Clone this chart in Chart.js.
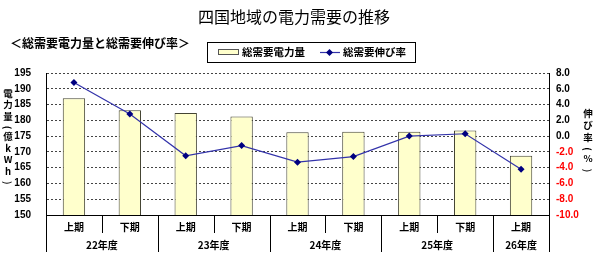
<!DOCTYPE html>
<html>
<head>
<meta charset="utf-8">
<script src="https://cdn.jsdelivr.net/npm/chart.js"></script>
<style>
  html, body { margin: 0; padding: 0; background: #fff; }
  #wrap { width: 595px; height: 270px; }
</style>
</head>
<body>
<div id="wrap"><canvas id="demandChart" width="595" height="270"></canvas></div>
<script>
// 半期ラベルと年度
const halves = ['上期', '下期', '上期', '下期', '上期', '下期', '上期', '下期', '上期'];
const fiscalYears = ['22年度', '22年度', '23年度', '23年度', '24年度', '24年度', '25年度', '25年度', '26年度'];

// 総需要電力量（億kWh）
const demand = [187.0, 183.2, 182.3, 181.2, 176.2, 176.4, 176.4, 176.8, 168.8];
// 総需要伸び率（%）
const growth = [6.8, 2.8, -2.5, -1.2, -3.3, -2.6, 0.0, 0.3, -4.2];

const jpFont = "'Noto Sans CJK JP', 'Liberation Sans', sans-serif";
const numFont = "'Liberation Sans', Arial, sans-serif";

// タイトル・凡例・軸ラベルなどを描く
const decorations = {
  id: 'decorations',
  afterDraw(chart) {
    const ctx = chart.ctx;
    const area = chart.chartArea;
    const xs = chart.scales.x;
    ctx.save();
    ctx.fillStyle = '#000';
    ctx.textBaseline = 'middle';

    // タイトル
    ctx.font = '16px ' + jpFont;
    ctx.textAlign = 'center';
    ctx.fillText('四国地域の電力需要の推移', 294, 17);

    // サブタイトル
    ctx.font = 'bold 12px ' + jpFont;
    ctx.textAlign = 'left';
    ctx.fillText('＜総需要電力量と総需要伸び率＞', 10, 43);

    // 凡例
    ctx.strokeStyle = '#000';
    ctx.lineWidth = 1;
    ctx.strokeRect(207.5, 42.5, 208, 20);
    ctx.fillStyle = '#ffffcc';
    ctx.fillRect(218.5, 49.5, 20, 5);
    ctx.strokeStyle = '#555';
    ctx.strokeRect(218.5, 49.5, 20, 5);
    ctx.fillStyle = '#000';
    ctx.font = 'bold 10.5px ' + jpFont;
    ctx.fillText('総需要電力量', 242, 52.5);
    ctx.strokeStyle = '#3333aa';
    ctx.lineWidth = 1.2;
    ctx.beginPath();
    ctx.moveTo(320, 52.5);
    ctx.lineTo(340, 52.5);
    ctx.stroke();
    ctx.fillStyle = '#000080';
    ctx.beginPath();
    ctx.moveTo(329.5, 49);
    ctx.lineTo(333, 52.5);
    ctx.lineTo(329.5, 56);
    ctx.lineTo(326, 52.5);
    ctx.closePath();
    ctx.fill();
    ctx.fillStyle = '#000';
    ctx.fillText('総需要伸び率', 343, 52.5);

    // 縦書き軸タイトル
    const drawVertical = (chars, x, y0, step) => {
      ctx.font = 'bold 9.5px ' + jpFont;
      ctx.textAlign = 'center';
      let y = y0;
      chars.forEach(ch => {
        if (ch === '(' || ch === ')') {
          ctx.save();
          ctx.translate(x, y);
          ctx.rotate(Math.PI / 2);
          ctx.fillText(ch, 0, 0);
          ctx.restore();
          y += step * 0.8;
        } else {
          ctx.fillText(ch, x, y);
          y += step;
        }
      });
    };
    drawVertical(['電', '力', '量', '(', '億', 'k', 'W', 'h', ')'], 8, 93, 11.5);
    drawVertical(['伸', 'び', '率', '(', '%', ')'], 588, 113, 12);

    // 横軸ラベル（2段）
    ctx.font = 'bold 10px ' + jpFont;
    ctx.textAlign = 'center';
    const step = (area.right - area.left) / halves.length;
    halves.forEach((h, i) => {
      ctx.fillText(h, xs.getPixelForValue(i), area.bottom + 12);
    });
    ctx.strokeStyle = '#000';
    ctx.lineWidth = 1;
    // 区切り線
    for (let i = 0; i <= halves.length; i++) {
      const x = Math.round(area.left + step * i) + 0.5;
      const long = i === 0 || i === halves.length || fiscalYears[i] !== fiscalYears[i - 1];
      ctx.beginPath();
      ctx.moveTo(x, area.bottom);
      ctx.lineTo(x, area.bottom + (long ? 37 : 18));
      ctx.stroke();
    }
    // 年度ラベル
    let start = 0;
    for (let i = 1; i <= fiscalYears.length; i++) {
      if (i === fiscalYears.length || fiscalYears[i] !== fiscalYears[start]) {
        const cx = (xs.getPixelForValue(start) + xs.getPixelForValue(i - 1)) / 2;
        ctx.fillText(fiscalYears[start], cx, area.bottom + 30);
        start = i;
      }
    }
    ctx.restore();
  }
};

new Chart(document.getElementById('demandChart'), {
  data: {
    labels: halves,
    datasets: [
      {
        type: 'line',
        label: '総需要伸び率',
        data: growth,
        yAxisID: 'y1',
        borderColor: '#3333aa',
        borderWidth: 1.2,
        pointStyle: 'rectRot',
        pointRadius: 3.5,
        pointBackgroundColor: '#000080',
        pointBorderColor: '#000080',
        pointBorderWidth: 0,
        tension: 0,
        order: 0
      },
      {
        type: 'bar',
        label: '総需要電力量',
        data: demand,
        yAxisID: 'y',
        backgroundColor: '#ffffcc',
        borderColor: '#444433',
        borderWidth: 1,
        barPercentage: 0.8,
        categoryPercentage: 0.5,
        order: 1
      }
    ]
  },
  options: {
    responsive: false,
    animation: false,
    layout: { padding: { top: 73, left: 0, right: 0, bottom: 0 } },
    plugins: {
      legend: { display: false },
      title: { display: false },
      tooltip: { enabled: false }
    },
    scales: {
      x: {
        grid: { display: false },
        border: { display: true, color: '#000', width: 1 },
        ticks: { display: false },
        afterFit(scale) { scale.height = 55; }
      },
      y: {
        position: 'left',
        min: 150,
        max: 195,
        ticks: {
          stepSize: 5,
          padding: 15,
          color: '#000',
          font: { family: numFont, size: 10, weight: 'bold' }
        },
        grid: {
          drawTicks: false,
          color: '#444',
          lineWidth: 1
        },
        border: { display: true, color: '#000', width: 1, dash: [2, 2] },
        afterFit(scale) { scale.width = 46; }
      },
      y1: {
        position: 'right',
        min: -10,
        max: 8,
        ticks: {
          stepSize: 2,
          padding: 7,
          callback: v => v.toFixed(1),
          color: ctx => (ctx.tick.value < 0 ? '#ff0000' : '#000'),
          font: { family: numFont, size: 10, weight: 'bold' }
        },
        grid: { display: false, drawTicks: false },
        border: { display: true, color: '#000', width: 1 },
        afterFit(scale) { scale.width = 46; }
      }
    }
  },
  plugins: [decorations]
});
</script>
</body>
</html>
